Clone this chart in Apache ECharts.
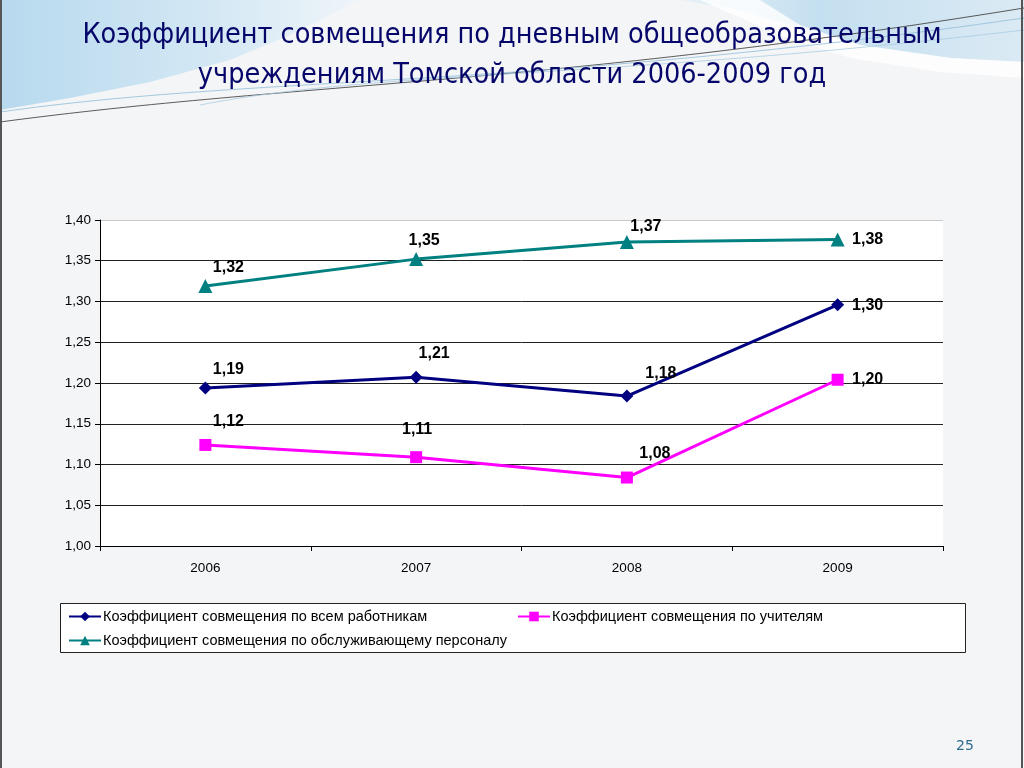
<!DOCTYPE html>
<html><head><meta charset="utf-8">
<script src="https://cdn.jsdelivr.net/npm/echarts@6/dist/echarts.min.js"></script>
<style>html,body{margin:0;padding:0;background:#f4f5f7;}#c{width:1024px;height:768px;}</style>
</head><body><div id="c"></div>
<script>
const categories = ['2006', '2007', '2008', '2009'];
const seriesNames = [
  'Коэффициент совмещения по всем работникам',
  'Коэффициент совмещения по учителям',
  'Коэффициент совмещения по обслуживающему персоналу'
];
const allWorkers = [1.194, 1.207, 1.184, 1.296];
const teachers = [1.124, 1.109, 1.084, 1.204];
const servicePersonnel = [1.319, 1.352, 1.373, 1.376];
const yTicks = { min: 1.0, max: 1.4, interval: 0.05 };
const titleText = 'Коэффициент совмещения по дневным общеобразовательным\nучреждениям Томской области 2006-2009 год';
const pageNumber = '25';

// label offsets (style only)
const offsAll = [[23,-18],[18,-24],[34,-22],[30,1]];
const offsTeach = [[23,-23],[1,-28],[28,-24],[30,0]];
const offsServ = [[23,-18],[8,-19],[19,-15],[30,0]];

const fmt = v => v.toFixed(2).replace('.', ',');
function mk(vals, offs) {
  return vals.map((v, i) => ({ value: v, label: { offset: offs[i] } }));
}
const FONT = 'Liberation Sans, Arial, sans-serif';
const labelBase = {
  show: true, position: 'inside', color: '#000',
  fontFamily: FONT, fontWeight: 'bold', fontSize: 16,
  formatter: p => fmt(p.value)
};

const chart = echarts.init(document.getElementById('c'), null, { renderer: 'canvas' });
const legendCommon = {
  orient: 'horizontal', padding: 0, itemWidth: 32, itemHeight: 12, itemGap: 5,
  textStyle: { fontFamily: FONT, fontSize: 14.5, color: '#000', padding: [0,0,0,-3] }
};
const gradL = { type: 'linear', x: 0, y: 0, x2: 1, y2: 0,
  colorStops: [{offset:0,color:'#b7d9ee'},{offset:0.6,color:'#d4e8f4'},{offset:1,color:'#f0f5f9'}] };
const gradR = { type: 'linear', x: 0, y: 0, x2: 1, y2: 0,
  colorStops: [{offset:0,color:'#e8f2f8'},{offset:0.4,color:'#c4dff0'},{offset:1,color:'#dbeaf4'}] };
const splitColors = ['#222','#222','#222','#222','#222','#222','#222','#222','#c8c8c8'];
chart.setOption({
  animation: false,
  backgroundColor: 'transparent',
  graphic: [
    { type: 'polygon', z: -10, shape: { points: [[0,0],[360,0],[330,15],[290,35],[230,60],[150,82],[70,98],[0,110]] },
      style: { fill: gradL } },
    { type: 'polygon', z: -10, shape: { points: [[680,0],[1024,0],[1024,62],[950,58],[860,45],[790,25],[730,8]] },
      style: { fill: gradR } },
    { type: 'polygon', z: -9, shape: { points: [[700,0],[760,0],[800,25],[860,45],[950,58],[1024,62],[1024,78],[940,72],[850,58],[780,35]] },
      style: { fill: 'rgba(255,255,255,0.8)' } },
    { type: 'bezierCurve', z: -8, shape: { x1: 0, y1: 122, cpx1: 300, cpy1: 82, cpx2: 550, cpy2: 85, x2: 1024, y2: 8 },
      style: { fill: null, stroke: '#333', lineWidth: 0.8 } },
    { type: 'bezierCurve', z: -8, shape: { x1: 0, y1: 112, cpx1: 260, cpy1: 75, cpx2: 520, cpy2: 90, x2: 1024, y2: 18 },
      style: { fill: null, stroke: '#8fbcd8', lineWidth: 0.8 } },
    { type: 'bezierCurve', z: -8, shape: { x1: 200, y1: 105, cpx1: 380, cpy1: 70, cpx2: 600, cpy2: 80, x2: 1024, y2: 30 },
      style: { fill: null, stroke: '#a9cde2', lineWidth: 0.8 } },
    { type: 'rect', z: -5, shape: { x: 0, y: 0, width: 2, height: 768 }, style: { fill: '#555' } },
    { type: 'rect', z: -5, shape: { x: 1021, y: 0, width: 2, height: 768 }, style: { fill: '#555' } },
    { type: 'rect', z: -1, shape: { x: 60.5, y: 603.5, width: 905, height: 49 },
      style: { fill: '#fff', stroke: '#222', lineWidth: 1 } },
    { type: 'text', left: 956, top: 739,
      style: { text: pageNumber, fill: '#2f6a8c', font: '14px "DejaVu Sans", sans-serif' } },
    { type: 'text', left: 'center', top: 16,
      style: { text: titleText, fill: '#06066a', textAlign: 'center',
        font: '28.5px "DejaVu Sans Condensed", "Liberation Sans", sans-serif', lineHeight: 40 } }
  ],
  grid: { left: 100, right: 81, top: 220, bottom: 222, show: true, backgroundColor: '#fff', borderWidth: 0 },
  xAxis: {
    type: 'category', data: categories, boundaryGap: true,
    axisLine: { lineStyle: { color: '#000', width: 1 } },
    axisTick: { show: true, length: 5, lineStyle: { color: '#000' } },
    axisLabel: { color: '#000', fontFamily: FONT, fontSize: 13.5, margin: 15 },
    splitLine: { show: false }
  },
  yAxis: {
    type: 'value', min: yTicks.min, max: yTicks.max, interval: yTicks.interval,
    axisLine: { show: true, lineStyle: { color: '#000', width: 1 } },
    axisTick: { show: true, length: 5, lineStyle: { color: '#000' } },
    axisLabel: { color: '#000', fontFamily: FONT, fontSize: 13.5, margin: 9,
      formatter: v => fmt(v) },
    splitLine: { show: true, lineStyle: { color: splitColors, width: 1 } }
  },
  legend: [
    Object.assign({ left: 68, top: 609, data: [seriesNames[0]] }, legendCommon),
    Object.assign({ left: 517, top: 609, data: [seriesNames[1]] }, legendCommon),
    Object.assign({ left: 68, top: 633, data: [seriesNames[2]] }, legendCommon)
  ],
  series: [
    { name: seriesNames[0], type: 'line', data: mk(allWorkers, offsAll),
      symbol: 'diamond', symbolSize: 13, color: '#000080',
      lineStyle: { width: 3, color: '#000080' }, itemStyle: { color: '#000080' }, label: labelBase },
    { name: seriesNames[1], type: 'line', data: mk(teachers, offsTeach),
      symbol: 'rect', symbolSize: 12, color: '#ff00ff',
      lineStyle: { width: 3, color: '#ff00ff' }, itemStyle: { color: '#ff00ff' }, label: labelBase },
    { name: seriesNames[2], type: 'line', data: mk(servicePersonnel, offsServ),
      symbol: 'triangle', symbolSize: 14, color: '#008080',
      lineStyle: { width: 3, color: '#008080' }, itemStyle: { color: '#008080' }, label: labelBase }
  ]
});
</script>
</body></html>
